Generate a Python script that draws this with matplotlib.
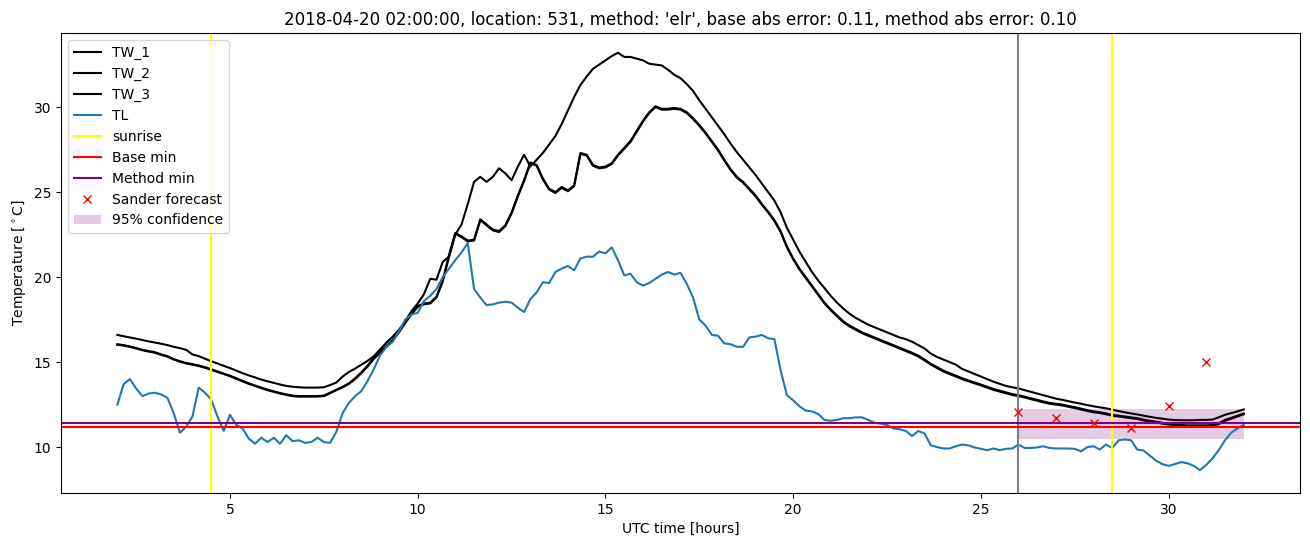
import numpy as np
import matplotlib
matplotlib.use("Agg")
import matplotlib.pyplot as plt

# ---- data (10-minute steps from 02:00 to 32:00 UTC hours) ----
TW_1 = [16.6, 16.52, 16.45, 16.38, 16.3, 16.22,
        16.15, 16.08, 16.0, 15.9, 15.82, 15.72,
        15.45, 15.35, 15.2, 15.05, 14.92, 14.78,
        14.65, 14.5, 14.35, 14.22, 14.1, 13.97,
        13.87, 13.78, 13.68, 13.6, 13.55, 13.52,
        13.5, 13.5, 13.5, 13.52, 13.65, 13.8,
        14.15, 14.42, 14.62, 14.85, 15.08, 15.35,
        15.75, 16.15, 16.5, 16.9, 17.4, 18.0,
        18.45, 19.0, 19.9, 19.85, 20.9, 21.2,
        22.5, 23.1, 24.3, 25.6, 25.9, 25.6,
        25.9, 26.4, 26.1, 25.7, 26.5, 27.2,
        26.5, 26.9, 27.3, 27.8, 28.3, 29.0,
        29.8, 30.6, 31.3, 31.8, 32.25, 32.5,
        32.75, 33.0, 33.2, 32.95, 32.95, 32.85,
        32.75, 32.55, 32.5, 32.45, 32.2, 31.9,
        31.7, 31.35, 30.95, 30.4, 29.9, 29.4,
        28.9, 28.4, 27.85, 27.35, 26.9, 26.45,
        26.0, 25.5, 25.0, 24.5, 23.8, 22.9,
        22.2, 21.5, 20.9, 20.3, 19.8, 19.35,
        18.9, 18.5, 18.15, 17.85, 17.6, 17.4,
        17.2, 17.05, 16.9, 16.75, 16.6, 16.45,
        16.35, 16.2, 16.0, 15.8, 15.5, 15.3,
        15.15, 15.0, 14.85, 14.6, 14.45, 14.3,
        14.15, 14.0, 13.85, 13.72, 13.6, 13.52,
        13.45, 13.35, 13.25, 13.15, 13.05, 12.95,
        12.85, 12.78, 12.7, 12.62, 12.55, 12.47,
        12.4, 12.34, 12.28, 12.2, 12.12, 12.05,
        11.98, 11.92, 11.85, 11.78, 11.72, 11.67,
        11.62, 11.59, 11.58, 11.58, 11.58, 11.6,
        11.6, 11.62, 11.75, 11.9, 12.0, 12.1,
        12.22]

TW_2 = [16.05, 16.0, 15.92, 15.83, 15.72, 15.65,
        15.58, 15.45, 15.35, 15.17, 15.05, 14.95,
        14.88, 14.8, 14.7, 14.58, 14.45, 14.32,
        14.2, 14.05, 13.9, 13.75, 13.62, 13.5,
        13.38, 13.28, 13.18, 13.1, 13.03, 13.0,
        13.0, 13.0, 13.0, 13.03, 13.2, 13.38,
        13.55, 13.75, 14.05, 14.4, 14.8, 15.25,
        15.6, 15.95, 16.3, 16.8, 17.35, 17.85,
        18.3, 18.45, 18.5, 18.85, 19.8, 21.3,
        22.6, 22.4, 22.15, 22.2, 23.4, 23.1,
        22.8, 22.7, 23.05, 23.8, 24.8, 25.7,
        26.7, 26.6, 25.8, 25.2, 25.0, 25.3,
        25.1, 25.4, 27.3, 27.2, 26.6, 26.45,
        26.5, 26.7, 27.2, 27.6, 28.0, 28.6,
        29.2, 29.7, 30.05, 29.9, 29.9, 29.95,
        29.9, 29.7, 29.35, 28.95, 28.5, 28.0,
        27.5, 26.9, 26.35, 25.9, 25.6, 25.2,
        24.8, 24.3, 23.85, 23.35, 22.7, 21.8,
        21.1, 20.5, 20.0, 19.5, 19.0, 18.5,
        18.1, 17.75, 17.4, 17.15, 16.95, 16.75,
        16.6, 16.45, 16.3, 16.15, 16.0, 15.85,
        15.7, 15.55, 15.38, 15.15, 14.9, 14.7,
        14.5, 14.35, 14.2, 14.05, 13.92, 13.8,
        13.68, 13.55, 13.42, 13.32, 13.22, 13.12,
        13.05, 12.97, 12.87, 12.78, 12.68, 12.6,
        12.55, 12.5, 12.42, 12.35, 12.26, 12.18,
        12.1, 12.05, 11.98, 11.9, 11.85, 11.8,
        11.75, 11.7, 11.62, 11.55, 11.5, 11.43,
        11.38, 11.33, 11.3, 11.28, 11.28, 11.28,
        11.28, 11.3, 11.4, 11.6, 11.72, 11.85,
        11.98]

TW_3 = [16.02, 15.97, 15.9, 15.8, 15.7, 15.62,
        15.55, 15.43, 15.32, 15.15, 15.03, 14.92,
        14.85, 14.77, 14.67, 14.55, 14.42, 14.3,
        14.17, 14.02, 13.87, 13.72, 13.6, 13.47,
        13.35, 13.25, 13.15, 13.07, 13.0, 12.97,
        12.97, 12.97, 12.98, 13.0, 13.17, 13.35,
        13.52, 13.72, 14.0, 14.35, 14.75, 15.2,
        15.55, 15.9, 16.25, 16.75, 17.3, 17.8,
        18.25, 18.4, 18.45, 18.8, 19.75, 21.2,
        22.55, 22.35, 22.1, 22.15, 23.35, 23.05,
        22.75, 22.65, 23.0, 23.75, 24.75, 25.65,
        26.75, 26.55, 25.75, 25.15, 24.95, 25.25,
        25.05, 25.35, 27.25, 27.15, 26.55, 26.4,
        26.45, 26.65, 27.15, 27.55, 27.95, 28.55,
        29.15, 29.65, 30.0, 29.85, 29.85, 29.9,
        29.85, 29.65, 29.3, 28.9, 28.45, 27.95,
        27.45, 26.85, 26.3, 25.85, 25.55, 25.15,
        24.75, 24.25, 23.8, 23.3, 22.65, 21.75,
        21.05, 20.45, 19.95, 19.45, 18.95, 18.45,
        18.05, 17.7, 17.35, 17.1, 16.9, 16.7,
        16.55, 16.4, 16.25, 16.1, 15.95, 15.8,
        15.65, 15.5, 15.33, 15.1, 14.85, 14.65,
        14.45, 14.3, 14.15, 14.0, 13.87, 13.75,
        13.63, 13.5, 13.37, 13.27, 13.17, 13.07,
        13.0, 12.92, 12.82, 12.73, 12.63, 12.55,
        12.5, 12.45, 12.37, 12.3, 12.21, 12.13,
        12.05, 12.0, 11.93, 11.85, 11.8, 11.75,
        11.7, 11.65, 11.57, 11.5, 11.45, 11.38,
        11.33, 11.28, 11.25, 11.23, 11.23, 11.23,
        11.23, 11.25, 11.35, 11.55, 11.67, 11.8,
        11.93]

TL = [12.5, 13.7, 14.0, 13.45, 13.0, 13.15,
      13.2, 13.1, 12.9, 12.0, 10.85, 11.2,
      11.8, 13.5, 13.2, 12.8, 11.8, 10.95,
      11.9, 11.3, 11.1, 10.5, 10.2, 10.55,
      10.3, 10.55, 10.2, 10.7, 10.35, 10.4,
      10.25, 10.3, 10.55, 10.3, 10.25, 10.9,
      12.0, 12.6, 13.0, 13.3, 13.9, 14.6,
      15.4, 15.9, 16.2, 16.8, 17.5, 17.8,
      17.9, 18.6, 18.9, 19.3, 20.0, 20.5,
      21.0, 21.45, 22.0, 19.3, 18.8, 18.35,
      18.4, 18.5, 18.55, 18.5, 18.2, 17.95,
      18.7, 19.1, 19.7, 19.65, 20.3, 20.5,
      20.65, 20.4, 21.1, 21.2, 21.2, 21.5,
      21.4, 21.75, 21.0, 20.1, 20.2, 19.7,
      19.5, 19.65, 19.9, 20.15, 20.3, 20.15,
      20.25, 19.6, 18.8, 17.5, 17.15, 16.6,
      16.55, 16.1, 16.05, 15.9, 15.9, 16.45,
      16.5, 16.6, 16.4, 16.35, 14.5, 13.05,
      12.75, 12.4, 12.15, 12.1, 11.95, 11.6,
      11.55, 11.6, 11.7, 11.7, 11.75, 11.75,
      11.6, 11.43, 11.38, 11.3, 11.1, 11.05,
      10.95, 10.65, 10.95, 10.8, 10.1, 10.0,
      9.92, 9.92, 10.05, 10.15, 10.1, 9.98,
      9.9, 9.82, 9.92, 9.82, 9.9, 9.92,
      10.15, 9.95, 9.95, 9.98, 10.05, 9.95,
      9.92, 9.92, 9.92, 9.9, 9.75, 10.0,
      10.05, 9.86, 10.15, 9.95, 10.4, 10.45,
      10.4, 9.85, 9.8, 9.5, 9.2, 9.0,
      8.9, 9.0, 9.12, 9.05, 8.9, 8.65,
      8.95, 9.33, 9.82, 10.4, 10.85, 11.1,
      11.3]

start_hour = 2.0
step_hours = 1 / 6

sunrise_hours = [4.5, 28.5]
forecast_start = 26.0
base_min = 11.2
method_min = 11.42
forecast_hours = [26, 27, 28, 29, 30, 31]
sander_forecast = [12.08, 11.74, 11.41, 11.14, 12.39, 14.98]
conf_hours = [26.0, 32.0]
conf_low = 10.47
conf_high = 12.27

title = ("2018-04-20 02:00:00, location: 531, method: 'elr', "
         "base abs error: 0.11, method abs error: 0.10")

# ---- plot ----
t = start_hour + np.arange(len(TL)) * step_hours

fig = plt.figure(figsize=(13.1, 5.47), dpi=100)
ax = fig.add_axes([0.0466, 0.0987, 0.9458, 0.841])

ax.plot(t, TW_1, color="black", label="TW_1")
ax.plot(t, TW_2, color="black", label="TW_2")
ax.plot(t, TW_3, color="black", label="TW_3")
ax.plot(t, TL, color="C0", label="TL")
ax.axvline(sunrise_hours[0], color="yellow", label="sunrise")
ax.axvline(sunrise_hours[1], color="yellow")
ax.axvline(forecast_start, color="gray")
ax.axhline(base_min, color="red", label="Base min")
ax.axhline(method_min, color="purple", label="Method min")
ax.plot(forecast_hours, sander_forecast, "x", color="red", label="Sander forecast")
ax.fill_between(conf_hours, [conf_low, conf_low], [conf_high, conf_high],
                color="purple", alpha=0.2, linewidth=0, label="95% confidence")

ax.set_xlim(0.5, 33.5)
ax.set_ylim(7.3, 34.36)
ax.set_xlabel("UTC time [hours]")
ax.set_ylabel(r"Temperature [$^\circ$C]")
ax.set_title(title)
ax.legend(loc="upper left")

fig.savefig("out.png", dpi=100)
